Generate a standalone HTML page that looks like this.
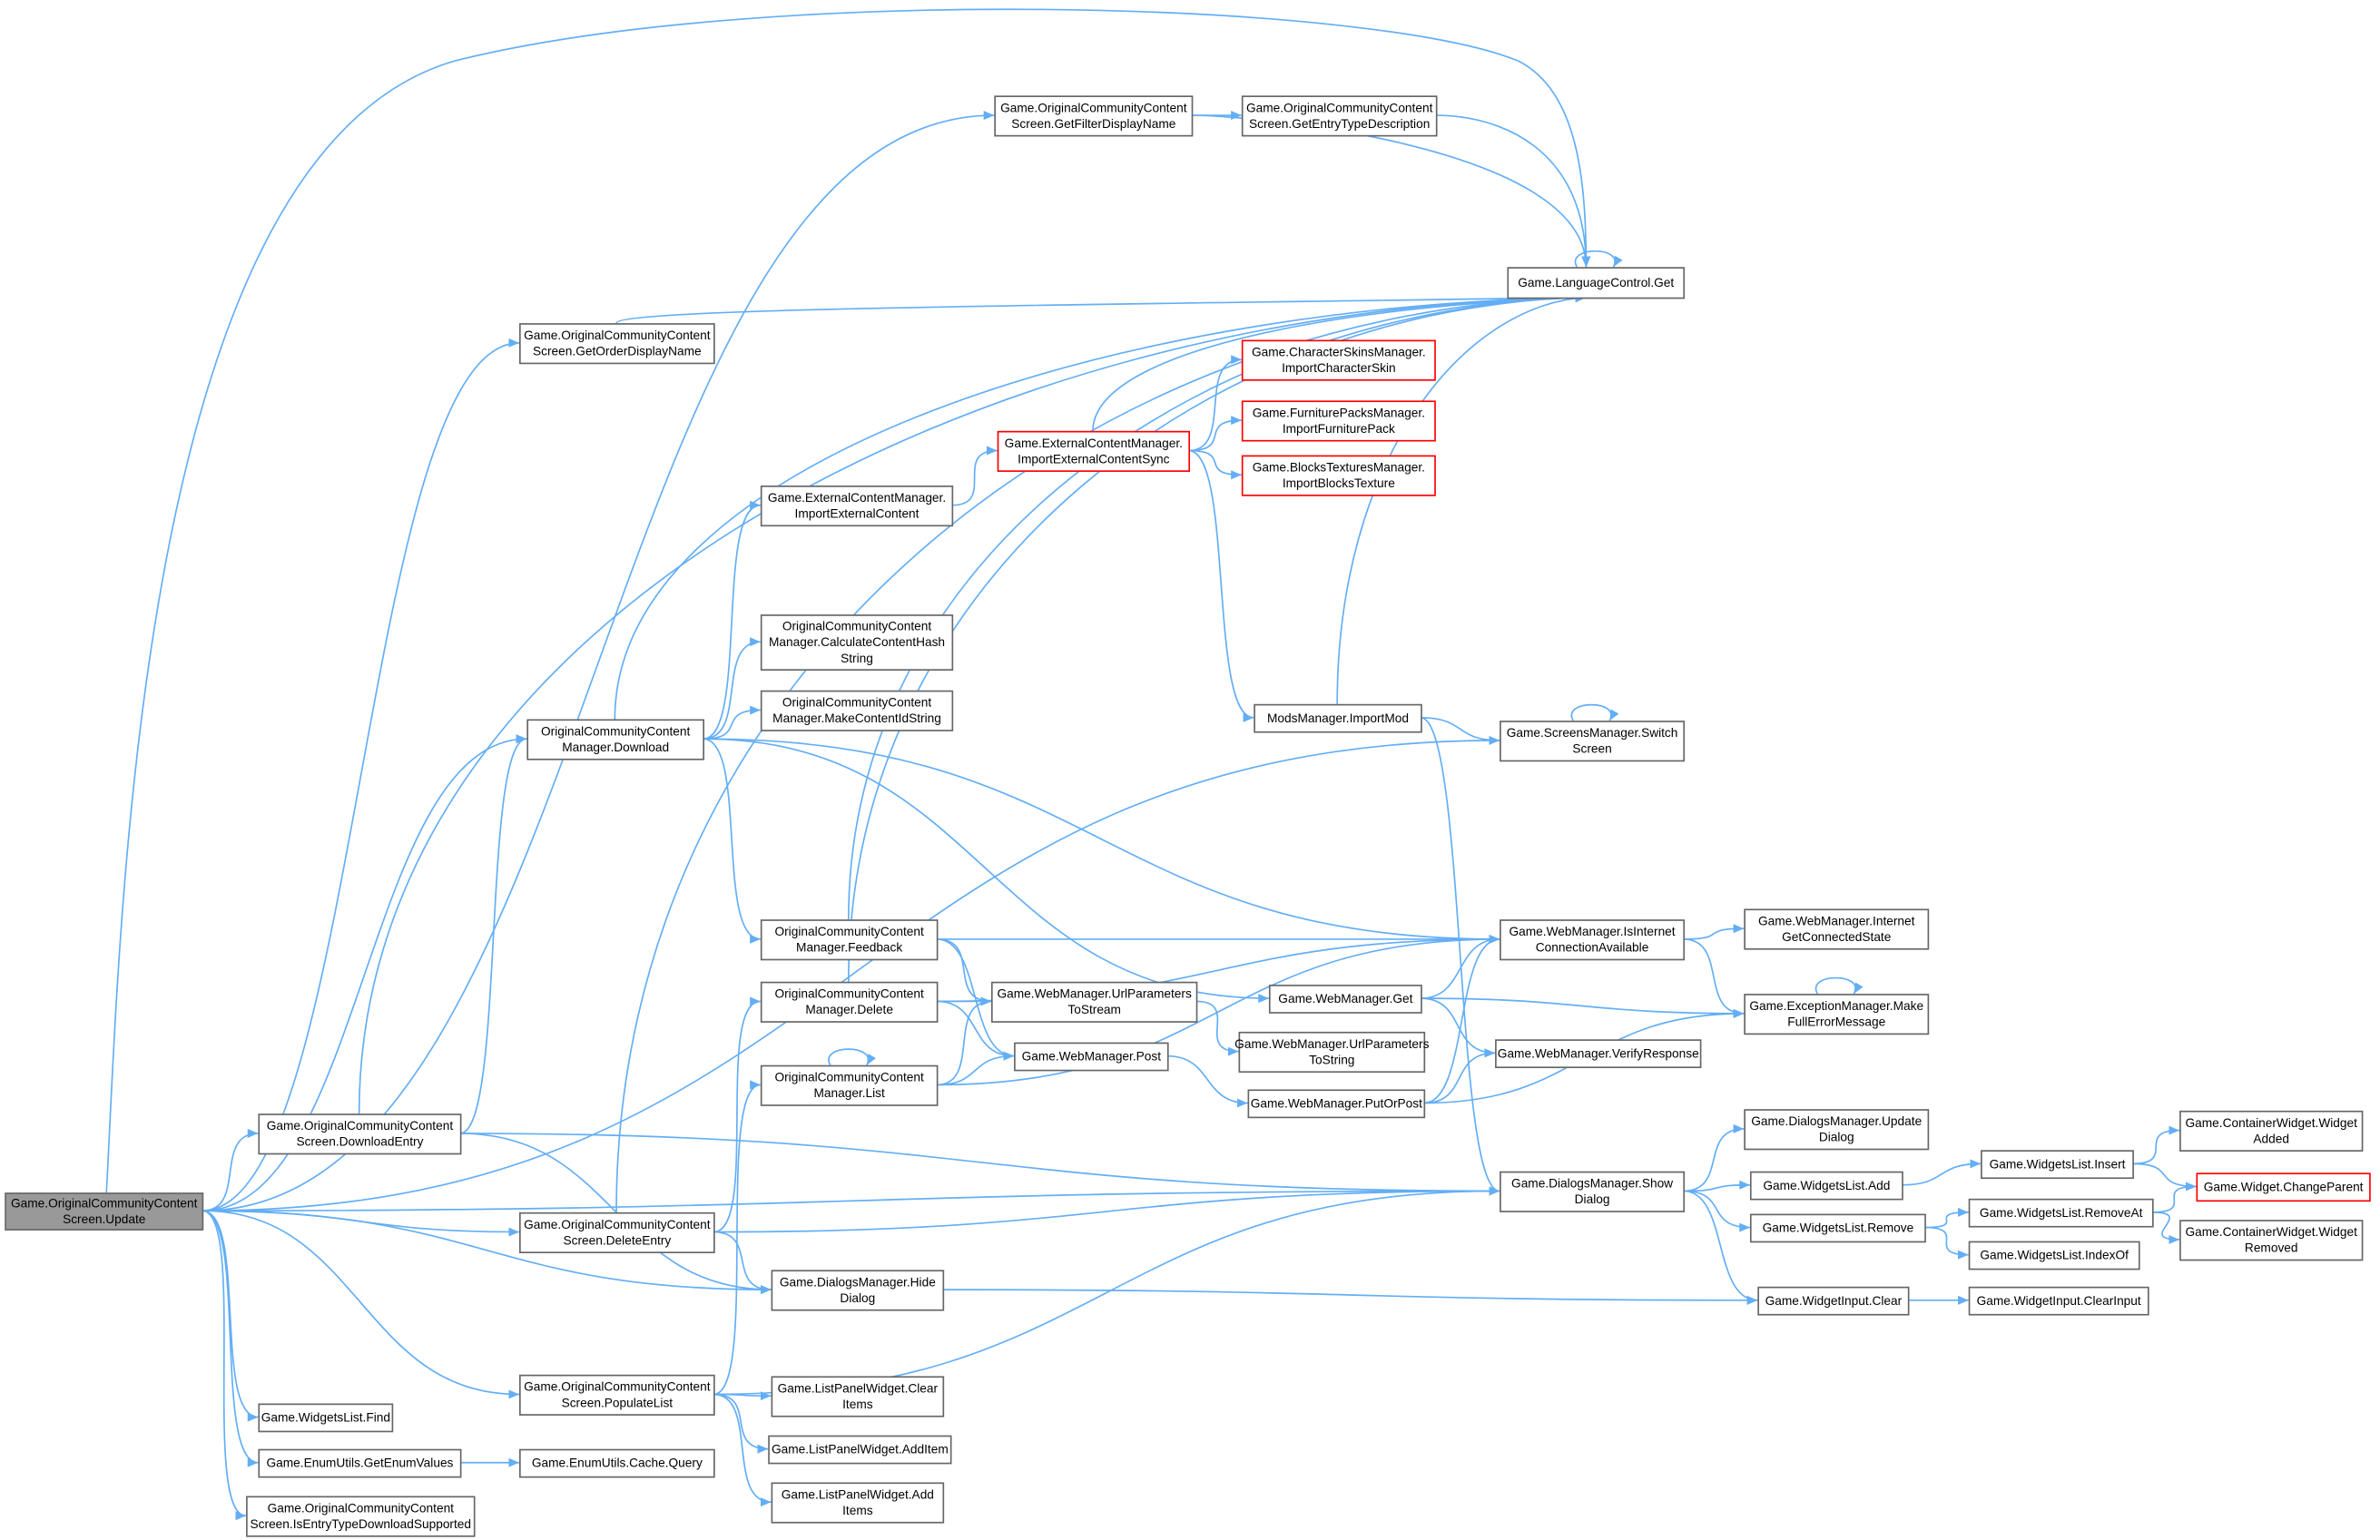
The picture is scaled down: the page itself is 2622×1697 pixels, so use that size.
<!DOCTYPE html>
<html><head><meta charset="utf-8">
<style>
html,body{margin:0;padding:0;background:#fff;}
svg{display:block;}
text{font-family:"Liberation Sans",Arial,sans-serif;font-size:8.2px;fill:#000;}
</style></head>
<body>
<svg id="s" width="2622" height="1697" viewBox="0 0 1568 1015" xmlns="http://www.w3.org/2000/svg">
<defs><marker id="a" markerWidth="8" markerHeight="8" refX="7" refY="4" orient="auto" markerUnits="userSpaceOnUse"><path d="M0,1 L7,4 L0,7 z" fill="#63aef5"/></marker></defs>
<g id="e" fill="none" stroke="#63aef5" stroke-width="1"></g>
<g id="n"></g>
</svg>
<script>
var N={
U:[3,786,130,24,"Game.OriginalCommunityContent|Screen.Update",2],
GF:[655,63,130,26,"Game.OriginalCommunityContent|Screen.GetFilterDisplayName"],
GE:[818,63,128,26,"Game.OriginalCommunityContent|Screen.GetEntryTypeDescription"],
LC:[993,176,116,20,"Game.LanguageControl.Get"],
GO:[342,213,128,26,"Game.OriginalCommunityContent|Screen.GetOrderDisplayName"],
IS:[657,284,126,26,"Game.ExternalContentManager.|ImportExternalContentSync",1],
CS:[818,224,127,26,"Game.CharacterSkinsManager.|ImportCharacterSkin",1],
FP:[818,264,127,26,"Game.FurniturePacksManager.|ImportFurniturePack",1],
BT:[818,300,127,26,"Game.BlocksTexturesManager.|ImportBlocksTexture",1],
IE:[501,320,126,26,"Game.ExternalContentManager.|ImportExternalContent"],
CH:[501,405,126,36,"OriginalCommunityContent|Manager.CalculateContentHash|String"],
MC:[501,455,126,26,"OriginalCommunityContent|Manager.MakeContentIdString"],
DL:[347,474,116,26,"OriginalCommunityContent|Manager.Download"],
IM:[826,464,110,18,"ModsManager.ImportMod"],
SS:[988,475,121,26,"Game.ScreensManager.Switch|Screen"],
FB:[501,606,116,26,"OriginalCommunityContent|Manager.Feedback"],
II:[988,606,121,26,"Game.WebManager.IsInternet|ConnectionAvailable"],
IG:[1149,599,121,26,"Game.WebManager.Internet|GetConnectedState"],
DE:[501,647,116,26,"OriginalCommunityContent|Manager.Delete"],
UP:[653,647,135,26,"Game.WebManager.UrlParameters|ToStream"],
WG:[836,649,100,18,"Game.WebManager.Get"],
MF:[1149,655,121,26,"Game.ExceptionManager.Make|FullErrorMessage"],
PO:[668,687,101,18,"Game.WebManager.Post"],
US:[816,680,122,26,"Game.WebManager.UrlParameters|ToString"],
VR:[985,685,135,18,"Game.WebManager.VerifyResponse"],
LI:[501,702,116,26,"OriginalCommunityContent|Manager.List"],
PP:[822,718,116,18,"Game.WebManager.PutOrPost"],
DN:[170,734,133,26,"Game.OriginalCommunityContent|Screen.DownloadEntry"],
UD:[1149,731,121,26,"Game.DialogsManager.Update|Dialog"],
SD:[988,772,121,26,"Game.DialogsManager.Show|Dialog"],
WA:[1153,772,100,18,"Game.WidgetsList.Add"],
WI:[1305,758,100,18,"Game.WidgetsList.Insert"],
CA:[1436,732,120,26,"Game.ContainerWidget.Widget|Added"],
CP:[1447,773,114,18,"Game.Widget.ChangeParent",1],
DX:[342,799,128,26,"Game.OriginalCommunityContent|Screen.DeleteEntry"],
WR:[1153,800,115,18,"Game.WidgetsList.Remove"],
RA:[1297,790,121,18,"Game.WidgetsList.RemoveAt"],
CR:[1436,804,120,26,"Game.ContainerWidget.Widget|Removed"],
IO:[1297,818,112,18,"Game.WidgetsList.IndexOf"],
HD:[508,837,113,26,"Game.DialogsManager.Hide|Dialog"],
WC:[1158,848,99,18,"Game.WidgetInput.Clear"],
CI:[1297,848,118,18,"Game.WidgetInput.ClearInput"],
PL:[342,906,128,26,"Game.OriginalCommunityContent|Screen.PopulateList"],
LCI:[508,907,113,26,"Game.ListPanelWidget.Clear|Items"],
WF:[170,925,88,18,"Game.WidgetsList.Find"],
LA:[506,946,120,18,"Game.ListPanelWidget.AddItem"],
EV:[170,955,133,18,"Game.EnumUtils.GetEnumValues"],
CQ:[342,955,128,18,"Game.EnumUtils.Cache.Query"],
LAS:[508,977,113,26,"Game.ListPanelWidget.Add|Items"],
ED:[162,986,150,26,"Game.OriginalCommunityContent|Screen.IsEntryTypeDownloadSupported"]
};
var E="U GF,U GO,U SS,U DN,U SD,U DX,U HD,U PL,U WF,U EV,U ED,U DL,GF GE,GF LC,GE LC,GO LC,LC LC,DL LC,DL IE,DL CH,DL MC,DL FB,DL II,DL WG,IE IS,IS LC,IS CS,IS FP,IS BT,IS IM,IM LC,IM SS,IM SD,SS SS,FB LC,FB II,FB UP,FB PO,DE LC,DE II,DE UP,DE PO,LI LI,LI UP,LI PO,LI II,WG II,WG MF,WG VR,UP US,PO PP,PP II,PP VR,PP MF,II IG,II MF,MF MF,DN LC,DN DL,DN SD,DN HD,DX LC,DX DE,DX SD,DX HD,PL LI,PL SD,PL LCI,PL LA,PL LAS,HD WC,SD UD,SD WA,SD WR,SD WC,WA WI,WI CA,WI CP,WR RA,WR IO,RA CP,RA CR,WC CI,EV CQ".split(",");
var ns="http://www.w3.org/2000/svg",g=document.getElementById("n"),ge=document.getElementById("e");
function el(t,a,p){var e=document.createElementNS(ns,t);for(var k in a)e.setAttribute(k,a[k]);p.appendChild(e);return e;}
for(var k in N){var d=N[k];
el("rect",{x:d[0]+.5,y:d[1]+.5,width:d[2],height:d[3],fill:d[5]==2?"#999":"#fff",stroke:d[5]==1?"#ff0000":"#666","stroke-width":1},g);
var L=d[4].split("|"),cy=d[1]+d[3]/2,lh=10.5,y0=cy-(L.length-1)*lh/2+3;
L.forEach(function(s,i){var t=el("text",{x:d[0]+d[2]/2+.5,y:y0+i*lh,"text-anchor":"middle"},g);t.textContent=s;});}
el("path",{d:"M70,786 C80,600 90,100 300,40 C500,-10 900,0 1000,40 C1040,60 1045,120 1045,176","marker-end":"url(#a)"},ge);
E.forEach(function(s){var p=s.split(" "),a=N[p[0]],b=N[p[1]],path;
if(p[0]==p[1]){var cx=a[0]+a[2]/2,y=a[1];path="M"+(cx-12)+","+y+" C"+(cx-20)+","+(y-14)+" "+(cx+20)+","+(y-14)+" "+(cx+12)+","+y;}
else if(p[1]=="LC"){
 if(a[1]<176){var x1=a[0]+a[2],y1=a[1]+a[3]/2;path="M"+x1+","+y1+" C"+(x1+40)+","+y1+" "+1045+","+(y1+20)+" 1045,176";}
 else{var x1=a[0]+a[2]/2,y1=a[1];var x2=1045,y2=196;path="M"+x1+","+y1+" C"+x1+","+(y1-(y1-y2)*0.6)+" "+(x2-((x2-x1)*0.5))+","+(y2+5)+" "+x2+","+y2;}
}
else{var x1=a[0]+a[2],y1=a[1]+a[3]/2,x2=b[0],y2=b[1]+b[3]/2;
if(x2<x1){x1=a[0]+a[2]/2;y1=a[1];}
var dx=Math.max(30,(x2-x1)/2);path="M"+x1+","+y1+" C"+(x1+dx)+","+y1+" "+(x2-dx)+","+y2+" "+x2+","+y2;}
el("path",{d:path,"marker-end":"url(#a)"},ge);});
</script>
</body></html>
